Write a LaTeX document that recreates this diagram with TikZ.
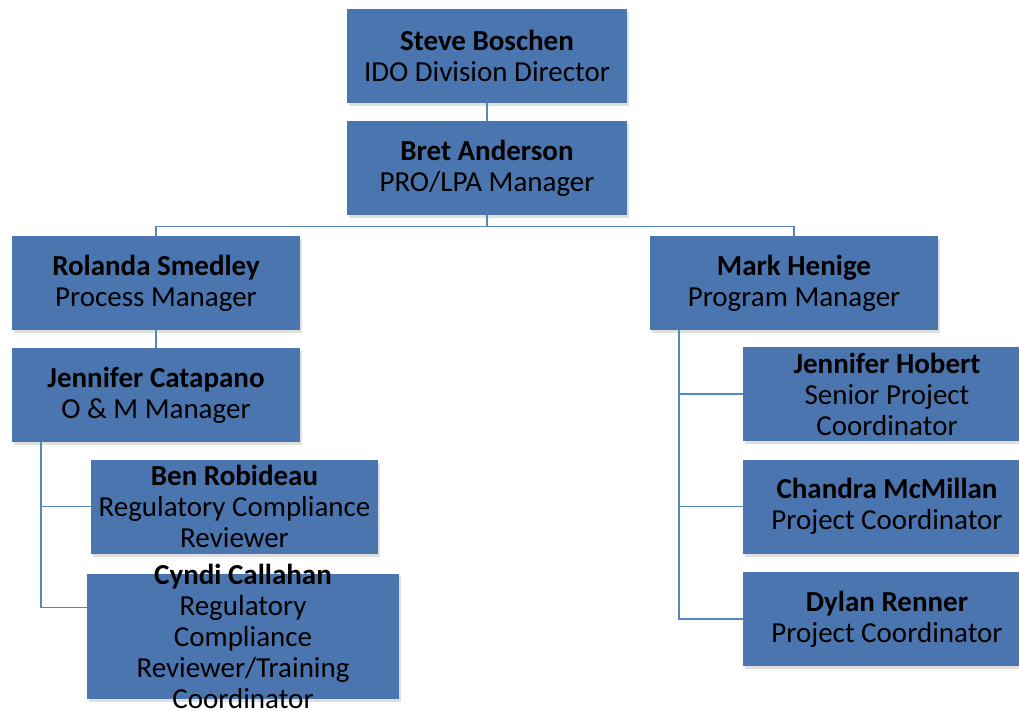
\documentclass[tikz,border=0pt]{standalone}
\usepackage{fontspec}
\setmainfont{Carlito}
\usetikzlibrary{positioning, shadows}
\definecolor{boxblue}{RGB}{74,117,174}
\definecolor{lineblue}{RGB}{88,134,192}
\tikzstyle{person} = [rectangle, fill = boxblue,
  minimum width = 288, minimum height = 94, inner sep = 0,
  text centered, align = center,
  font = \fontsize{29}{31}\selectfont,
  drop shadow = {shadow xshift = 2pt, shadow yshift = -3pt, opacity = 0.25}
]
\tikzstyle{link} = [draw = lineblue, line width = 1.3]

\begin{document}
\begin{tikzpicture}[x = 1pt, y = -1pt]
      \useasboundingbox (0, 0) rectangle (1019, 710);
      % top
      \node [person, minimum width = 280] (steve) at (487, 56)
        {\textbf{Steve Boschen}\\IDO Division Director};
      \node [person, minimum width = 280] (bret) at (487, 168)
        {\textbf{Bret Anderson}\\PRO/LPA Manager};
      % left branch
      \node [person] (rolanda) at (156, 283)
        {\textbf{Rolanda Smedley}\\Process Manager};
      \node [person] (jcat) at (156, 395)
        {\textbf{Jennifer Catapano}\\O \& M Manager};
      \node [person, minimum width = 287] (ben) at (234.5, 506.5)
        {\textbf{Ben Robideau}\\Regulatory Compliance\\Reviewer};
      \node [person, minimum width = 312, minimum height = 125] (cyndi) at (243, 636.5) {};
      \node [align = center, font = \fontsize{29}{31}\selectfont, inner sep = 0]
        (cyndi-text) at (cyndi)
        {\textbf{Cyndi Callahan}\\Regulatory\\Compliance\\Reviewer/Training\\Coordinator};
      % right branch
      \node [person] (mark) at (794, 283)
        {\textbf{Mark Henige}\\Program Manager};
      \node [person] (jhob) at (887, 394)
        {\textbf{Jennifer Hobert}\\Senior Project\\Coordinator};
      \node [person] (chandra) at (887, 506.5)
        {\textbf{Chandra McMillan}\\Project Coordinator};
      \node [person] (dylan) at (887, 619)
        {\textbf{Dylan Renner}\\Project Coordinator};

      \coordinate (split) at ([yshift = -11]bret.south);
      \coordinate (jcat-trunk) at ([xshift = -115]jcat.south);
      \coordinate (mark-trunk) at ([xshift = -115]mark.south);

      \draw [link] (steve) -- (bret);
      \draw [link] (bret.south) -- (split);
      \draw [link] (split) -| (rolanda.north);
      \draw [link] (split) -| (mark.north);
      \draw [link] (rolanda) -- (jcat);
      \draw [link] (jcat-trunk) |- (ben.west);
      \draw [link] (jcat-trunk) |- ([yshift = 29]cyndi.west);
      \draw [link] (mark-trunk) |- (jhob.west);
      \draw [link] (mark-trunk) |- (chandra.west);
      \draw [link] (mark-trunk) |- (dylan.west);
    \end{tikzpicture}
\end{document}
